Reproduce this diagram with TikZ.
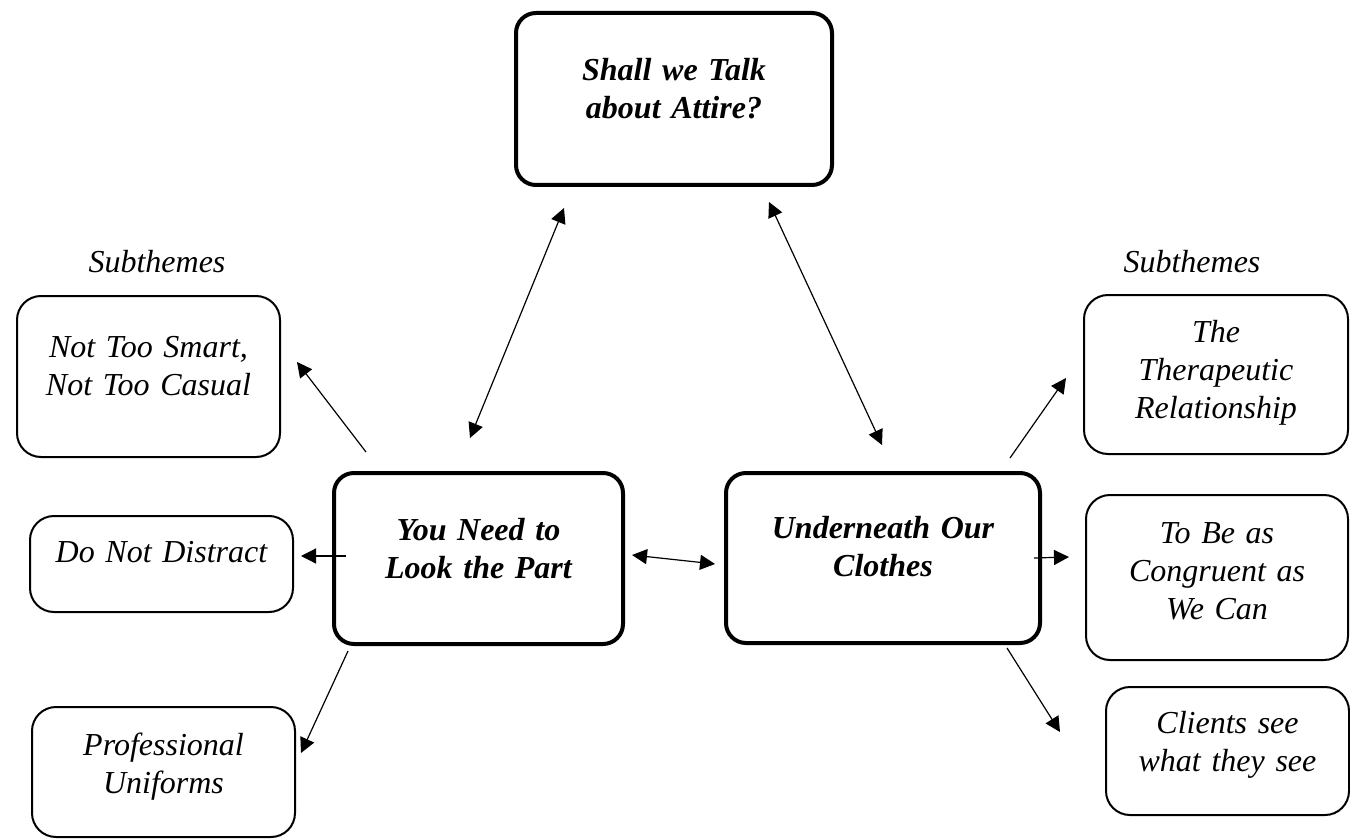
\documentclass[tikz,border=0pt]{standalone}
\usepackage{fontspec}
\setmainfont{Liberation Serif}
\usetikzlibrary{arrows.meta}

\begin{document}
\begin{tikzpicture}[
      x=0.5pt, y=-0.5pt,
      every node/.style={font=\fontsize{16pt}{19pt}\selectfont\itshape},
      box/.style={draw, anchor=north west, inner sep=0pt, outer sep=0pt, align=center},
      theme/.style={box, line width=2pt, rounded corners=10pt,
                    font=\fontsize{16pt}{19pt}\selectfont\bfseries\itshape},
      subtheme/.style={box, line width=1pt, rounded corners=12pt},
      dims/.style n args={3}{text width=#1, text height=#2, text depth=#3},
      arr/.style={-{Triangle[length=7.5pt,width=7.5pt]}, line width=0.6pt},
      dbl/.style={{Triangle[length=7.5pt,width=7.5pt]}-{Triangle[length=7.5pt,width=7.5pt]}, line width=0.6pt}
    ]
      \useasboundingbox (0,0) rectangle (1350,840);

      % themes
      \node[theme, dims={158pt}{34pt}{52pt}] (attire) at (516,13) {Shall we Talk\\about Attire?};
      \node[theme, dims={144.5pt}{33.5pt}{52pt}] (look) at (334,473) {You Need to\\Look the Part};
      \node[theme, dims={157pt}{32.5pt}{52.5pt}] (under) at (726,473) {Underneath Our\\Clothes};

      % subthemes, left
      \node[anchor=base] (subl) at (157,272) {Subthemes};
      \node[subtheme, dims={131.5pt}{30.5pt}{50pt}] (smart) at (17,296) {Not Too Smart,\\Not Too Casual};
      \node[subtheme, dims={131.5pt}{23pt}{25pt}] (distract) at (30,516) {Do Not Distract};
      \node[subtheme, dims={131.5pt}{24pt}{41pt}] (uniform) at (32,707) {Professional\\Uniforms};

      % subthemes, right
      \node[anchor=base] (subr) at (1192,272) {Subthemes};
      \node[subtheme, dims={132pt}{23.5pt}{56pt}] (therap) at (1084,295) {The\\Therapeutic\\Relationship};
      \node[subtheme, dims={131pt}{24pt}{58.5pt}] (congr) at (1086,495) {To Be as\\Congruent as\\We Can};
      \node[subtheme, dims={121.5pt}{23pt}{41pt}] (clients) at (1106,687) {Clients see\\what they see};

      % connector ends
      \coordinate (attire-l) at (564,208);  \coordinate (look-t) at (470,438);
      \coordinate (attire-r) at (769,202);  \coordinate (under-t) at (882,445);
      \coordinate (look-r) at (632,555);    \coordinate (under-l) at (715,564);
      \coordinate (look-nw) at (366,452);   \coordinate (smart-e) at (297,362);
      \coordinate (look-w) at (346,556);    \coordinate (distract-e) at (301,556);
      \coordinate (look-sw) at (348,651);   \coordinate (uniform-e) at (301,753);
      \coordinate (under-ne) at (1010,458); \coordinate (therap-w) at (1066,378);
      \coordinate (under-e) at (1034,558);  \coordinate (congr-w) at (1069,557);
      \coordinate (under-se) at (1007,648); \coordinate (clients-w) at (1060,732);

      \draw[dbl] (attire-l) -- (look-t);
      \draw[dbl] (attire-r) -- (under-t);
      \draw[dbl] (look-r) -- (under-l);
      \draw[arr] (look-nw) -- (smart-e);
      \draw[arr] (look-w) -- (distract-e);
      \draw[arr] (look-sw) -- (uniform-e);
      \draw[arr] (under-ne) -- (therap-w);
      \draw[arr] (under-e) -- (congr-w);
      \draw[arr] (under-se) -- (clients-w);
    \end{tikzpicture}
\end{document}
